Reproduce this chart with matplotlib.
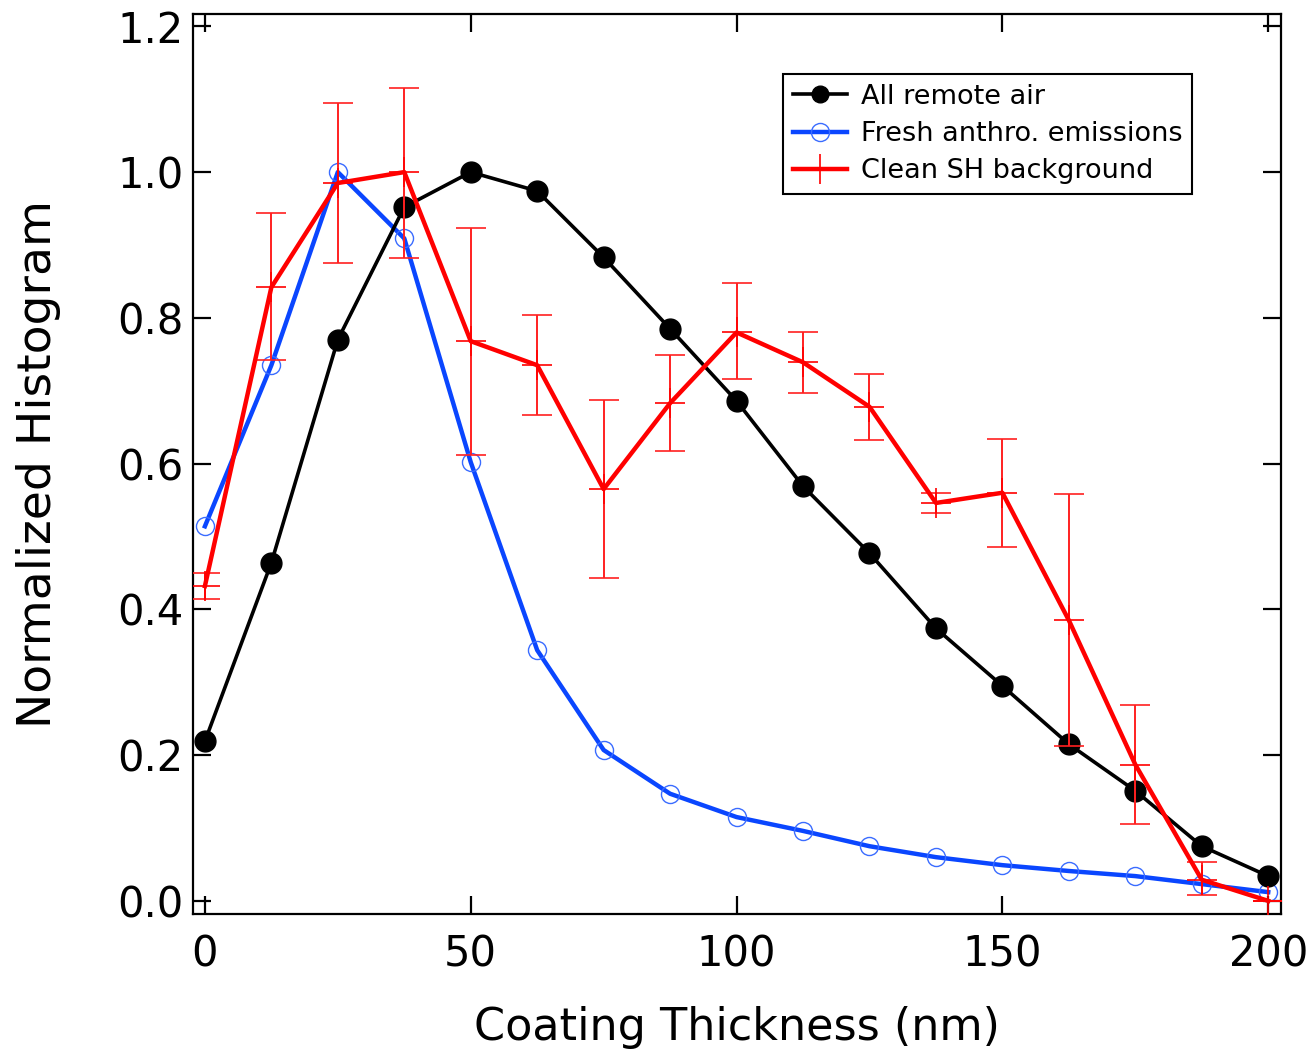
import matplotlib
matplotlib.use('Agg')
import numpy as np
import matplotlib.pyplot as plt
from matplotlib.lines import Line2D

# Coating thickness bins (nm)
thickness = [0, 12.5, 25, 37.5, 50, 62.5, 75, 87.5, 100, 112.5, 125, 137.5, 150, 162.5, 175, 187.5, 200]

# All remote air
remote_air = [0.219, 0.464, 0.770, 0.952, 1.000, 0.974, 0.883, 0.785, 0.686, 0.569,
              0.477, 0.374, 0.295, 0.215, 0.151, 0.075, 0.034]

# Fresh anthropogenic emissions
fresh_anthro = [0.514, 0.735, 1.000, 0.909, 0.602, 0.344, 0.207, 0.147, 0.115, 0.096,
                0.075, 0.060, 0.049, 0.041, 0.034, 0.023, 0.012]

# Clean SH background with error bar limits
clean_sh = [0.432, 0.842, 0.985, 1.000, 0.768, 0.735, 0.565, 0.683, 0.780, 0.739,
            0.678, 0.546, 0.560, 0.385, 0.187, 0.029, 0.000]
clean_sh_hi = [0.450, 0.944, 1.095, 1.115, 0.923, 0.804, 0.687, 0.749, 0.848, 0.780,
               0.723, 0.560, 0.634, 0.558, 0.269, 0.053, 0.000]
clean_sh_lo = [0.414, 0.742, 0.875, 0.882, 0.612, 0.667, 0.443, 0.617, 0.716, 0.697,
               0.632, 0.532, 0.486, 0.213, 0.106, 0.008, 0.000]

x = np.array(thickness)
red = np.array(clean_sh)
yerr = [red - np.array(clean_sh_lo), np.array(clean_sh_hi) - red]

fig = plt.figure(figsize=(13.09, 10.49), dpi=100)
ax = fig.add_axes([0.1474, 0.1287, 0.8312, 0.858])

ax.plot(x, fresh_anthro, color='#0a46ff', linewidth=3.2, marker='o', markersize=13,
        markerfacecolor='none', markeredgecolor='#3a6cff', markeredgewidth=1.0, zorder=2)
ax.plot(x, remote_air, color='black', linewidth=2.6, marker='o', markersize=15,
        markerfacecolor='black', zorder=3)
ax.errorbar(x, red, yerr=yerr, color='#ff0000', linewidth=3.2, marker='+', markersize=22,
            markeredgewidth=1.2, ecolor='#ff2020', elinewidth=1.4, capsize=11, capthick=1.4,
            zorder=4)

ax.set_xlim(-2.25, 202.4)
ax.set_ylim(-0.018, 1.217)
ax.set_xticks([0, 50, 100, 150, 200])
ax.set_yticks([0.0, 0.2, 0.4, 0.6, 0.8, 1.0, 1.2])
ax.set_yticklabels(['0.0', '0.2', '0.4', '0.6', '0.8', '1.0', '1.2'])

ax.tick_params(axis='both', direction='in', length=13, width=1.6, labelsize=30,
               top=True, right=True)
ax.tick_params(axis='x', pad=14)
ax.tick_params(axis='y', pad=7)
for s in ax.spines.values():
    s.set_linewidth(1.6)

ax.set_xlabel('Coating Thickness (nm)', fontsize=32, labelpad=22)
ax.set_ylabel('Normalized Histogram', fontsize=34, labelpad=40)

# legend proxies (no error bars in the key)
handles = [
    Line2D([], [], color='black', linewidth=2.6, marker='o', markersize=12),
    Line2D([], [], color='#0a46ff', linewidth=3.2, marker='o', markersize=13,
           markerfacecolor='none', markeredgecolor='#3a6cff', markeredgewidth=1.0),
    Line2D([], [], color='#ff0000', linewidth=3.2, marker='+', markersize=22,
           markeredgewidth=1.2),
]
labels = ['All remote air', 'Fresh anthro. emissions', 'Clean SH background']
leg = ax.legend(handles, labels, loc='upper right', bbox_to_anchor=(0.918, 0.933),
                borderaxespad=0, fontsize=19.5, frameon=True, fancybox=False,
                edgecolor='black', framealpha=1, handlelength=2.0, handletextpad=0.5,
                borderpad=0.35, labelspacing=0.42)
leg.get_frame().set_linewidth(1.5)

fig.savefig('out.png', dpi=100)
